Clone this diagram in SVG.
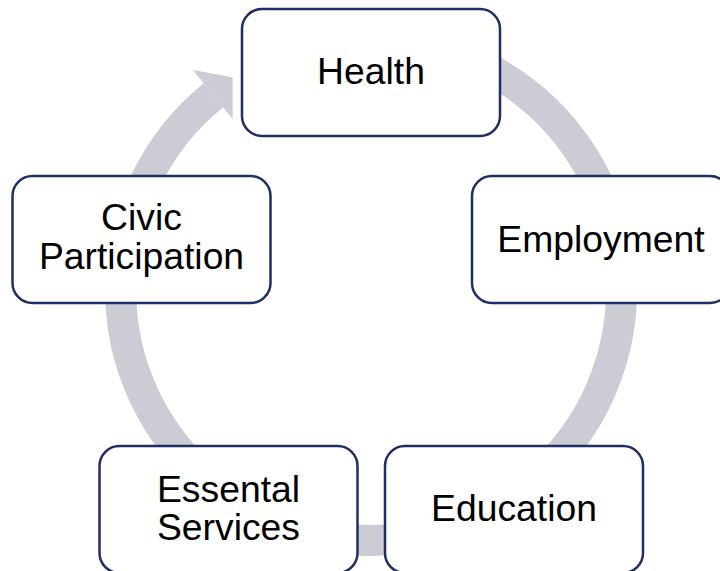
<svg xmlns="http://www.w3.org/2000/svg" width="720" height="571" viewBox="0 0 720 571">
  <style>
    .box { fill: #FFFFFF; stroke: #1F2E63; stroke-width: 2.5; }
    .lbl { font-family: "Liberation Sans", Arial, sans-serif; font-size: 37.3px; fill: #000000; text-anchor: middle; }
    .ring { fill: none; stroke: #CBCCD4; stroke-width: 31; stroke-linecap: butt; }
    .head { fill: #CBCCD4; }
  </style>
  <rect width="720" height="571" fill="#FFFFFF"/>
  <g id="connectors">
    <path class="ring" d="M 392.8 40.4 A 250.5 250.5 0 1 1 213.4 95.3"/>
    <polygon class="head" points="192.9,70.1 232.6,77.3 232.6,119.0"/>
  </g>
  <g id="health">
    <rect class="box" x="242" y="9" width="258" height="127" rx="20" ry="20"/>
    <text class="lbl" x="371" y="83.5">Health</text>
  </g>
  <g id="employment">
    <rect class="box" x="472" y="176" width="258" height="127" rx="20" ry="20"/>
    <text class="lbl" x="601" y="251.5">Employment</text>
  </g>
  <g id="education">
    <rect class="box" x="385" y="446" width="258" height="127" rx="20" ry="20"/>
    <text class="lbl" x="514" y="521">Education</text>
  </g>
  <g id="essental-services">
    <rect class="box" x="99.5" y="446" width="258" height="127" rx="20" ry="20"/>
    <text class="lbl" x="228.5" y="501.5">Essental</text>
    <text class="lbl" x="228.5" y="540">Services</text>
  </g>
  <g id="civic-participation">
    <rect class="box" x="12.5" y="176" width="258" height="127" rx="20" ry="20"/>
    <text class="lbl" x="141.5" y="230">Civic</text>
    <text class="lbl" x="141.5" y="268.5">Participation</text>
  </g>
</svg>
